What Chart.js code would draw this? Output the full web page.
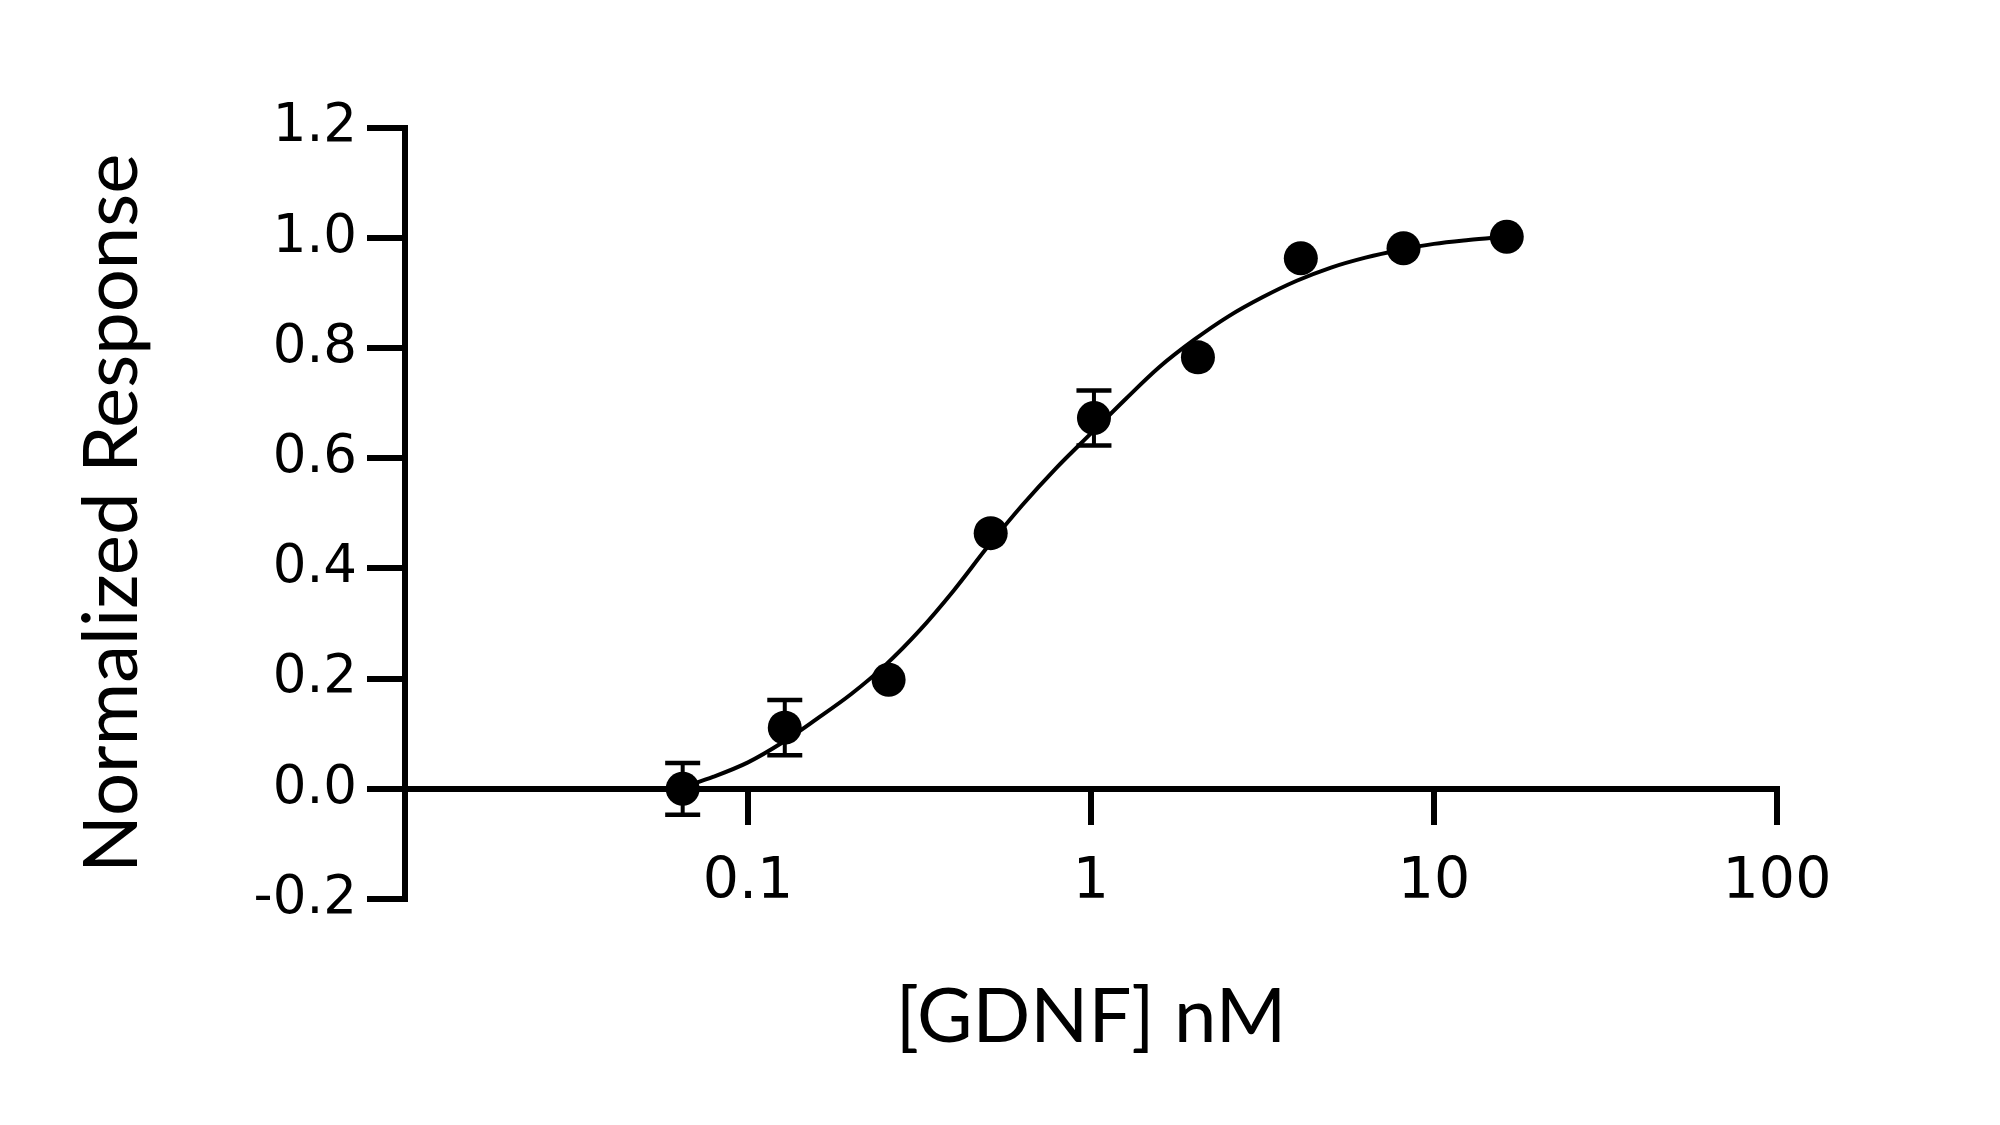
<!DOCTYPE html>
<html>
<head>
<meta charset="utf-8">
<script src="https://cdn.jsdelivr.net/npm/chart.js@4/dist/chart.umd.min.js"></script>
<style>
  html, body { margin: 0; padding: 0; background: #ffffff; }
  #wrap { width: 2000px; height: 1125px; }
</style>
</head>
<body>
<div id="wrap"><canvas id="c" width="2000" height="1125"></canvas></div>
<script>
// ---- data ----
const doses = [0.0645, 0.128, 0.257, 0.51, 1.02, 2.05, 4.09, 8.15, 16.3];           // [GDNF] nM
const response = [0.0, 0.111, 0.198, 0.464, 0.673, 0.783, 0.963, 0.981, 1.002];      // normalized
const errors = [0.047, 0.05, null, null, 0.05, null, null, null, null];             // +/- error
const fitX = [0.0646, 0.0794, 0.1, 0.126, 0.158, 0.2, 0.251, 0.316, 0.398, 0.501, 0.631, 0.794,
              1.0, 1.26, 1.58, 2.0, 2.51, 3.16, 3.98, 5.01, 6.31, 7.94, 10.0, 12.6, 16.2];
const fitY = [0.003, 0.022, 0.048, 0.084, 0.126, 0.172, 0.224, 0.287, 0.360, 0.440, 0.515, 0.583,
              0.645, 0.707, 0.765, 0.815, 0.857, 0.892, 0.922, 0.946, 0.964, 0.978, 0.989, 0.996, 1.002];
const xTickValues = [0.1, 1, 10, 100];
const xTickLabels = ['0.1', '1', '10', '100'];
const yTickValues = [-0.2, 0.0, 0.2, 0.4, 0.6, 0.8, 1.0, 1.2];
const yTickLabels = ['-0.2', '0.0', '0.2', '0.4', '0.6', '0.8', '1.0', '1.2'];
const xTitle = '[GDNF] nM';
const yTitle = 'Normalized Response';

// ---- build datasets ----
const TITLE_FONT = 'Lato, "Open Sans", sans-serif';
const TICK_FONT = '"DejaVu Sans", Lato, sans-serif';
const black = '#000000';

const pointData = doses.map((d, i) => ({ x: d, y: response[i] }));
const fitData = fitX.map((d, i) => ({ x: d, y: fitY[i] }));

const datasets = [];
datasets.push({
  label: 'data',
  data: pointData,
  showLine: false,
  pointRadius: 17,
  pointHoverRadius: 17,
  pointBackgroundColor: black,
  pointBorderColor: black,
  pointBorderWidth: 0,
  clip: false
});
errors.forEach((e, i) => {
  if (e == null) return;
  datasets.push({
    label: 'err' + i,
    data: [{ x: doses[i], y: response[i] - e }, { x: doses[i], y: response[i] + e }],
    showLine: true,
    borderColor: black,
    borderWidth: 4,
    pointStyle: 'line',
    pointRadius: 17.5,
    pointHoverRadius: 17.5,
    pointBorderColor: black,
    pointBorderWidth: 4.5,
    clip: false
  });
});
datasets.push({
  label: 'fit',
  data: fitData,
  showLine: true,
  borderColor: black,
  borderWidth: 4,
  pointRadius: 0,
  cubicInterpolationMode: 'monotone',
  clip: false
});

new Chart(document.getElementById('c'), {
  type: 'scatter',
  data: { datasets },
  options: {
    responsive: false,
    animation: false,
    devicePixelRatio: 1,
    layout: { padding: { top: 127.6, right: 223, bottom: 226, left: 0 } },
    plugins: { legend: { display: false }, tooltip: { enabled: false } },
    scales: {
      x: {
        type: 'logarithmic',
        min: 0.01,
        max: 100,
        position: { y: 0 },
        afterBuildTicks: (s) => { s.ticks = xTickValues.map(v => ({ value: v })); },
        afterFit: (s) => { s.height = 226; },
        ticks: {
          autoSkip: false,
          maxRotation: 0,
          color: black,
          padding: 27,
          font: { family: TICK_FONT, size: 57 },
          callback: (v, i) => xTickLabels[i]
        },
        grid: {
          drawOnChartArea: false,
          drawTicks: true,
          tickLength: 33,
          tickWidth: 6,
          tickColor: black,
          color: black,
          lineWidth: 6
        },
        border: { display: true, color: black, width: 6 },
        title: {
          display: true,
          text: xTitle,
          color: black,
          font: { family: TITLE_FONT, size: 76, weight: 'normal' },
          padding: { top: 0, bottom: -48.6 }
        }
      },
      y: {
        type: 'linear',
        min: -0.2,
        max: 1.2,
        position: 'left',
        afterBuildTicks: (s) => { s.ticks = yTickValues.map(v => ({ value: v })); },
        afterFit: (s) => { s.width = 405; },
        ticks: {
          color: black,
          padding: 10,
          font: { family: TICK_FONT, size: 53 },
          callback: (v, i) => yTickLabels[i]
        },
        grid: {
          drawOnChartArea: false,
          drawTicks: true,
          tickLength: 38,
          tickWidth: 6,
          tickColor: black,
          color: black,
          lineWidth: 6
        },
        border: { display: true, color: black, width: 6 },
        title: {
          display: true,
          text: yTitle,
          color: black,
          font: { family: TITLE_FONT, size: 76, weight: 'normal' },
          padding: { top: 67, bottom: 0 }
        }
      }
    }
  }
});
</script>
</body>
</html>
